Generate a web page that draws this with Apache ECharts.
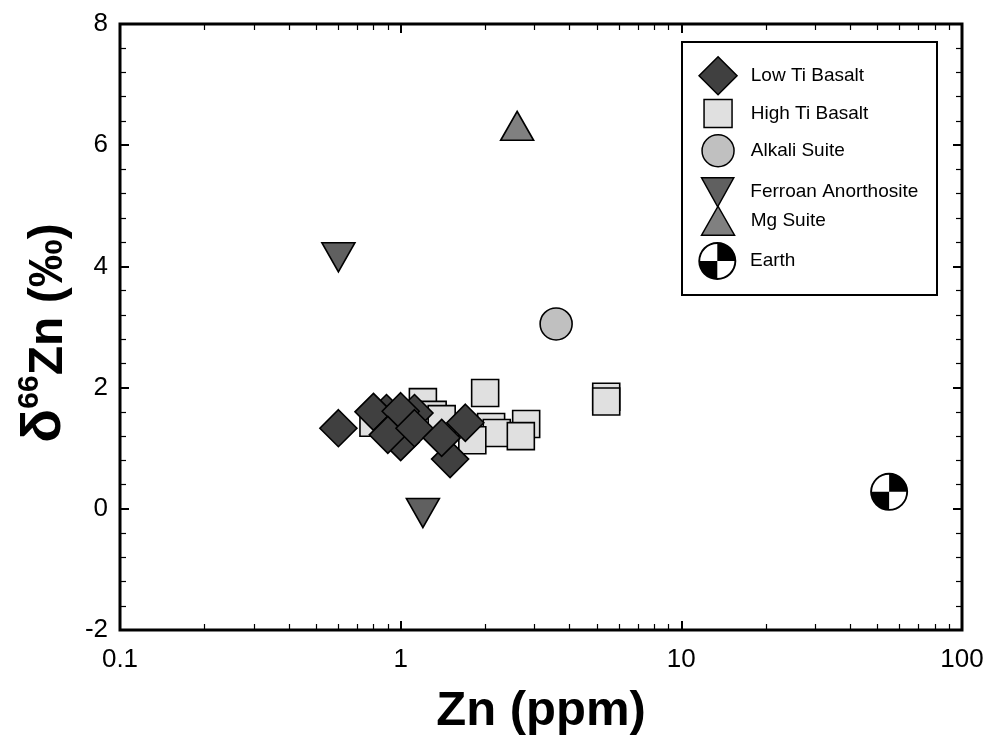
<!DOCTYPE html>
<html>
<head>
<meta charset="utf-8">
<script src="https://cdn.jsdelivr.net/npm/echarts@6/dist/echarts.min.js"></script>
<style>
  html, body { margin: 0; padding: 0; background: #fff; }
  #chart { width: 988px; height: 735px; }
</style>
</head>
<body>
<div id="chart"></div>
<script>
// Zn concentration (ppm) and δ66Zn (‰) for lunar sample groups
const lowTiZn  = [0.89, 1.12, 1.00, 0.60, 0.80, 1.00, 0.90, 1.12, 1.50, 1.40, 1.70];
const lowTiD66 = [1.58, 1.58, 1.10, 1.33, 1.60, 1.61, 1.22, 1.33, 0.82, 1.17, 1.42];

const highTiZn  = [0.80, 1.20, 1.30, 1.40, 2.00, 2.10, 2.20, 1.80, 2.80, 2.68, 5.40, 5.40];
const highTiD66 = [1.42, 1.76, 1.55, 1.48, 1.91, 1.35, 1.25, 1.13, 1.40, 1.20, 1.85, 1.77];

const alkaliZn  = [3.58];
const alkaliD66 = [3.05];

const ferroanZn  = [0.60, 1.20];
const ferroanD66 = [4.15, -0.07];

const mgZn  = [2.60];
const mgD66 = [6.32];

const earthZn  = [55];
const earthD66 = [0.28];

// Axis ticks
const xMajorTicks = [0.1, 1, 10, 100];
const xMinorTicks = [0.2, 0.3, 0.4, 0.5, 0.6, 0.7, 0.8, 0.9,
                     2, 3, 4, 5, 6, 7, 8, 9,
                     20, 30, 40, 50, 60, 70, 80, 90];
const yMin = -2, yMax = 8, yStep = 2;

const FONT = '"Liberation Sans", Arial, sans-serif';

function pairs(xs, ys) { return xs.map((x, i) => [x, ys[i]]); }

// Symbols
const DOWN_TRIANGLE = 'path://M0,0L10,0L5,9Z';
// circle with outline and two filled quadrants (top-right, bottom-left)
const EARTH_SYMBOL = 'path://M50,0A50,50 0 1 1 50,100A50,50 0 1 1 50,0Z' +
  'M50,5A45,45 0 1 0 50,95A45,45 0 1 0 50,5Z' +
  'M50,50L50,5A45,45 0 0 1 95,50Z' +
  'M50,50L50,95A45,45 0 0 1 5,50Z';

const groups = [
  { name: 'Low Ti Basalt', symbol: 'diamond', w: 38, h: 38, cy: 75, ty: 0 },
  { name: 'High Ti Basalt', symbol: 'rect', w: 28, h: 28, cy: 112.7, ty: 0 },
  { name: 'Alkali Suite', symbol: 'circle', w: 32, h: 32, cy: 150, ty: 0 },
  { name: 'Ferroan Anorthosite', symbol: DOWN_TRIANGLE, w: 33, h: 29, cy: 191.5, ty: -4 },
  { name: 'Mg Suite', symbol: 'triangle', w: 33, h: 29, cy: 220, ty: 4 },
  { name: 'Earth', symbol: EARTH_SYMBOL, w: 38, h: 38, cy: 261, ty: 0, noBorder: true }
];

const legendIconX = 717.3;
const legendTextX = 750;

const legends = groups.map(g => {
  const left = legendIconX - g.w / 2;
  const pl = legendTextX - (left + g.w + 5);
  const pad = g.ty >= 0 ? [2 * g.ty, 0, 0, pl] : [0, 0, -2 * g.ty, pl];
  return {
    data: [{ name: g.name, icon: g.symbol }],
    left: left,
    top: g.cy - g.h / 2,
    padding: 0,
    itemWidth: g.w,
    itemHeight: g.h,
    selectedMode: false,
    itemStyle: g.noBorder ? { borderWidth: 0 } : { borderColor: '#000', borderWidth: 1.5 },
    textStyle: { fontFamily: FONT, fontSize: 19, color: '#000', padding: pad }
  };
});

const chart = echarts.init(document.getElementById('chart'), null, { renderer: 'canvas' });

const xAxisBase = {
  type: 'log', logBase: 10, min: 0.1, max: 100, gridIndex: 0,
  axisLine: { show: false, onZero: false }, splitLine: { show: false }
};
const yAxisBase = {
  type: 'value', min: yMin, max: yMax, interval: yStep,
  axisLine: { show: false, onZero: false }, splitLine: { show: false },
  axisTick: { inside: true, length: 9, lineStyle: { color: '#000', width: 2 } },
  minorTick: { show: true, splitNumber: 5, length: 6, lineStyle: { color: '#000', width: 1.2 } }
};

const option = {
  backgroundColor: '#fff',
  animation: false,
  grid: {
    left: 120, right: 26, top: 24, bottom: 105,
    outerBoundsMode: 'none', containLabel: false,
    show: true, borderColor: '#000', borderWidth: 3
  },
  legend: legends,
  graphic: [{
    type: 'rect', z: 0,
    shape: { x: 682, y: 42, width: 255, height: 253 },
    style: { fill: '#fff', stroke: '#000', lineWidth: 2 }
  }],
  xAxis: [
    Object.assign({}, xAxisBase, {
      position: 'bottom',
      name: 'Zn (ppm)', nameLocation: 'middle', nameGap: 57,
      nameTextStyle: { fontFamily: FONT, fontSize: 49, fontWeight: 'bold', color: '#000' },
      axisTick: { inside: true, length: 9, customValues: xMajorTicks, lineStyle: { color: '#000', width: 2 } },
      axisLabel: {
        margin: 17, fontFamily: FONT, fontSize: 26, color: '#000',
        customValues: xMajorTicks,
        formatter: v => String(v)
      }
    }),
    Object.assign({}, xAxisBase, {
      position: 'bottom',
      axisTick: { inside: true, length: 6, customValues: xMinorTicks, lineStyle: { color: '#000', width: 1.2 } },
      axisLabel: { show: false }
    }),
    Object.assign({}, xAxisBase, {
      position: 'top',
      axisTick: { inside: true, length: 9, customValues: xMajorTicks, lineStyle: { color: '#000', width: 2 } },
      axisLabel: { show: false }
    }),
    Object.assign({}, xAxisBase, {
      position: 'top',
      axisTick: { inside: true, length: 6, customValues: xMinorTicks, lineStyle: { color: '#000', width: 1.2 } },
      axisLabel: { show: false }
    })
  ],
  yAxis: [
    Object.assign({}, yAxisBase, {
      position: 'left',
      name: '{d|δ}{s|66}{b|Zn (‰)}', nameLocation: 'middle', nameGap: 47, nameRotate: 90,
      nameTextStyle: {
        color: '#000',
        rich: {
          d: { fontFamily: FONT, fontSize: 56, fontWeight: 'bold', color: '#000', verticalAlign: 'bottom', lineHeight: 58 },
          s: { fontFamily: FONT, fontSize: 30, fontWeight: 'bold', color: '#000', verticalAlign: 'top', lineHeight: 34 },
          b: { fontFamily: FONT, fontSize: 48, fontWeight: 'bold', color: '#000', verticalAlign: 'bottom', lineHeight: 58, padding: [0, 12, 0, 0] }
        }
      },
      axisLabel: { margin: 12, fontFamily: FONT, fontSize: 26, color: '#000' }
    }),
    Object.assign({}, yAxisBase, {
      position: 'right',
      axisLabel: { show: false }
    })
  ],
  series: [
    {
      name: 'High Ti Basalt', type: 'scatter', symbol: 'rect', symbolSize: 27,
      itemStyle: { color: '#e0e0e0', borderColor: '#000', borderWidth: 1.6, opacity: 1 },
      data: pairs(highTiZn, highTiD66)
    },
    {
      name: 'Low Ti Basalt', type: 'scatter', symbol: 'diamond', symbolSize: 37,
      itemStyle: { color: '#404040', borderColor: '#000', borderWidth: 1.6, opacity: 1 },
      data: pairs(lowTiZn, lowTiD66)
    },
    {
      name: 'Alkali Suite', type: 'scatter', symbol: 'circle', symbolSize: 32,
      itemStyle: { color: '#c0c0c0', borderColor: '#000', borderWidth: 1.6, opacity: 1 },
      data: pairs(alkaliZn, alkaliD66)
    },
    {
      name: 'Ferroan Anorthosite', type: 'scatter', symbol: DOWN_TRIANGLE, symbolSize: [33, 29],
      itemStyle: { color: '#606060', borderColor: '#000', borderWidth: 1.6, opacity: 1 },
      data: pairs(ferroanZn, ferroanD66)
    },
    {
      name: 'Mg Suite', type: 'scatter', symbol: 'triangle', symbolSize: [33, 29],
      itemStyle: { color: '#808080', borderColor: '#000', borderWidth: 1.6, opacity: 1 },
      data: pairs(mgZn, mgD66)
    },
    {
      name: 'Earth', type: 'scatter', symbol: EARTH_SYMBOL, symbolSize: 38,
      itemStyle: { color: '#000', borderWidth: 0, opacity: 1 },
      data: pairs(earthZn, earthD66)
    }
  ]
};

chart.setOption(option);
</script>
</body>
</html>
